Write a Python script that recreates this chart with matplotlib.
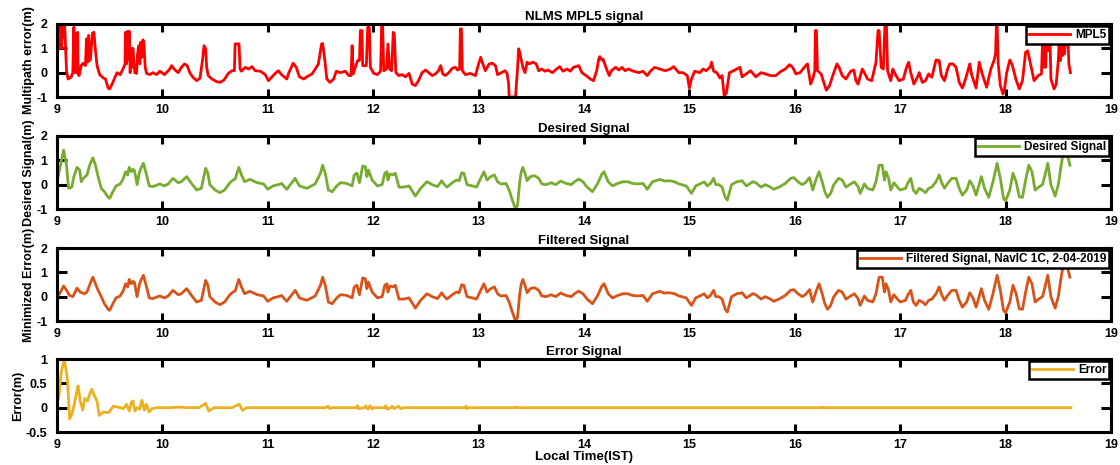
import matplotlib
matplotlib.use("Agg")
import matplotlib.pyplot as plt

plt.rcParams['font.family'] = ['Liberation Sans', 'DejaVu Sans']
plt.rcParams['font.weight'] = 'bold'

# ---- MPL5 raw multipath signal (hours, metres) ----
t_mpl = [9.0, 9.01, 9.02, 9.028, 9.035, 9.044, 9.054, 9.063, 9.073, 9.08, 9.09, 9.105, 9.136, 9.15, 9.16, 9.168,
         9.178, 9.187, 9.196, 9.2, 9.21, 9.23, 9.25, 9.27, 9.28, 9.29, 9.3, 9.31, 9.317, 9.336, 9.35, 9.365,
         9.38, 9.405, 9.44, 9.46, 9.485, 9.5, 9.526, 9.55, 9.57, 9.6, 9.63, 9.645, 9.65, 9.66, 9.67, 9.68,
         9.685, 9.694, 9.704, 9.713, 9.72, 9.738, 9.755, 9.764, 9.777, 9.786, 9.795, 9.805, 9.815, 9.824,
         9.837, 9.85, 9.88, 9.91, 9.945, 9.975, 10.02, 10.07, 10.087, 10.12, 10.15, 10.18, 10.21, 10.235,
         10.26, 10.29, 10.325, 10.357, 10.38, 10.395, 10.41, 10.42, 10.435, 10.47, 10.515, 10.547, 10.585,
         10.626, 10.66, 10.683, 10.69, 10.71, 10.727, 10.737, 10.75, 10.785, 10.816, 10.85, 10.88, 10.93,
         10.975, 11.006, 11.04, 11.07, 11.1, 11.13, 11.18, 11.2, 11.24, 11.27, 11.3, 11.34, 11.37, 11.42,
         11.45, 11.48, 11.51, 11.52, 11.54, 11.56, 11.59, 11.625, 11.65, 11.69, 11.735, 11.77, 11.79, 11.8,
         11.81, 11.83, 11.853, 11.87, 11.878, 11.894, 11.9, 11.935, 11.948, 11.963, 11.973, 12.005,
         12.04, 12.07, 12.08, 12.09, 12.1, 12.126, 12.14, 12.155, 12.175, 12.19, 12.2, 12.215, 12.243,
         12.275, 12.306, 12.34, 12.37, 12.4, 12.43, 12.464, 12.496, 12.527, 12.56, 12.59, 12.62, 12.64,
         12.66, 12.685, 12.717, 12.75, 12.78, 12.8, 12.82, 12.827, 12.837, 12.846, 12.875, 12.92, 12.97,
         13.0, 13.02, 13.04, 13.064, 13.1, 13.13, 13.16, 13.18, 13.216, 13.25, 13.27, 13.285, 13.29, 13.33,
         13.35, 13.37, 13.38, 13.39, 13.42, 13.44, 13.46, 13.48, 13.515, 13.547, 13.57, 13.6, 13.63, 13.66,
         13.7, 13.74, 13.77, 13.8, 13.84, 13.87, 13.9, 13.95, 13.98, 14.02, 14.06, 14.09, 14.12, 14.14,
         14.15, 14.17, 14.18, 14.22, 14.24, 14.26, 14.3, 14.33, 14.36, 14.39, 14.42, 14.47, 14.52, 14.56,
         14.6, 14.63, 14.67, 14.72, 14.77, 14.82, 14.85, 14.9, 14.94, 14.98, 15.0, 15.02, 15.05, 15.1,
         15.13, 15.16, 15.2, 15.21, 15.23, 15.26, 15.29, 15.31, 15.33, 15.35, 15.38, 15.41, 15.45, 15.48,
         15.5, 15.53, 15.58, 15.63, 15.68, 15.72, 15.77, 15.82, 15.87, 15.91, 15.95, 15.98, 16.01, 16.05,
         16.09, 16.12, 16.15, 16.17, 16.19, 16.195, 16.205, 16.215, 16.25, 16.28, 16.3, 16.33, 16.36, 16.4,
         16.42, 16.45, 16.485, 16.53, 16.56, 16.58, 16.6, 16.64, 16.66, 16.69, 16.73, 16.77, 16.79, 16.8,
         16.82, 16.84, 16.855, 16.87, 16.88, 16.91, 16.93, 16.96, 16.99, 17.03, 17.06, 17.08, 17.1, 17.13,
         17.17, 17.18, 17.21, 17.24, 17.27, 17.3, 17.34, 17.37, 17.39, 17.42, 17.45, 17.47, 17.5, 17.53,
         17.56, 17.59, 17.62, 17.66, 17.68, 17.72, 17.75, 17.78, 17.82, 17.86, 17.89, 17.905, 17.912, 17.92,
         17.93, 17.95, 17.975, 17.99, 18.01, 18.04, 18.06, 18.1, 18.13, 18.16, 18.19, 18.21, 18.24, 18.27,
         18.31, 18.34, 18.35, 18.36, 18.37, 18.38, 18.39, 18.405, 18.42, 18.43, 18.46, 18.48, 18.5, 18.51,
         18.52, 18.53, 18.54, 18.55, 18.56, 18.57, 18.59, 18.6, 18.615]
v_mpl = [0.56, 1.0, 1.86, 1.0, 1.86, 1.0, 1.95, 1.46, 1.95, 1.18, 0.08, -0.26, -0.17, 0.0, 1.87, 0.0,
         1.6, 0.0, 1.66, -0.05, -0.12, 0.29, 0.39, 0.29, 1.39, 0.43, 1.53, 0.5, 0.56, 1.62, 1.66, 0.9,
         0.29, -0.08, -0.22, -0.26, -0.63, -0.67, -0.44, -0.19, 0.0, -0.08, 0.19, 0.36, 1.66, 0.36, 1.7, 0.56,
         1.7, 0.0, 1.0, 0.22, 1.0, 0.0, -0.03, 0.77, 1.11, 0.36, 1.25, 0.63, 1.35, 1.25,
         0.22, -0.03, -0.08, 0.0, -0.08, 0.06, -0.08, 0.15, 0.29, 0.11, 0.0, 0.22, 0.36, 0.29,
         0.0, -0.19, -0.33, -0.22, 0.5, 1.11, 0.98, 0.22, -0.12, -0.26, -0.37, -0.4, -0.3,
         -0.03, 0.08, 0.08, 1.18, 1.18, 1.18, 0.15, 0.06, 0.22, 0.15, 0.25, 0.08, 0.06,
         -0.08, -0.33, -0.17, -0.03, 0.08, -0.08, -0.26, 0.0, 0.39, 0.22, -0.17, -0.26, -0.17, -0.05,
         0.15, 0.36, 1.18, 1.2, 0.56, -0.26, -0.4, -0.26, 0.06, 0.0, 0.06, -0.12, -0.12, 1.11,
         -0.05, 0.22, 0.5, 0.5, 1.73, 1.73, 0.29, 0.29, 1.87, 1.87, 0.22, -0.03,
         -0.08, 0.06, 1.92, 1.92, 0.08, 0.15, 1.18, 0.15, 0.08, 1.66, 1.6, 0.0, -0.12,
         -0.08, -0.17, -0.03, -0.47, -0.53, -0.33, 0.0, 0.11, 0.0, -0.12, -0.05, 0.08, 0.29,
         -0.05, -0.12, 0.0, 0.18, 0.22, 0.11, 0.15, 1.8, 1.8, 0.08, -0.08, -0.03, -0.12,
         0.36, 0.63, 0.36, 0.08, 0.36, 0.39, 0.29, -0.08, 0.0, 0.08, -0.03, -0.47, -1.0, -1.0,
         -1.0, 0.22, 0.98, 0.84, 0.22, 0.0, 0.43, 0.36, 0.43, 0.36, 0.08, 0.15, 0.06, 0.11,
         0.0, 0.15, 0.25, 0.06, 0.15, 0.06, 0.22, 0.29, 0.0, -0.12, -0.26, -0.33, 0.08, 0.56,
         0.66, 0.52, 0.56, 0.08, -0.12, 0.08, 0.22, 0.11, 0.22, 0.08, 0.15, 0.06, 0.0, 0.06,
         -0.12, 0.06, 0.22, 0.15, 0.08, 0.15, 0.25, 0.0, 0.0, -0.12, -0.63, -0.26, 0.06, 0.0,
         0.15, 0.08, 0.25, 0.43, 0.06, 0.0, -0.22, -0.12, -0.95, -0.85, 0.0, 0.06, 0.15, 0.22,
         -0.17, -0.08, 0.08, -0.17, 0.0, -0.05, -0.12, -0.12, 0.06, 0.15, 0.33, 0.22, -0.05, 0.0,
         0.22, 0.36, -0.47, -0.26, 0.08, 1.73, 1.73, 0.08, -0.05, -0.47, -0.72, -0.53, -0.12, 0.36,
         0.22, -0.12, -0.26, 0.06, 0.11, -0.33, -0.47, 0.15, 0.0, -0.26, -0.33, 0.43, 1.73, 1.73,
         0.22, 0.15, 1.94, 1.94, 0.08, -0.33, 0.15, -0.12, -0.33, -0.26, 0.22, 0.43, 0.0, -0.47,
         -0.12, 0.0, -0.4, -0.33, -0.05, -0.19, 0.52, 0.5, -0.12, -0.33, 0.15, 0.36, 0.36, 0.22,
         -0.4, -0.63, -0.26, 0.36, -0.12, -0.63, 0.43, -0.08, -0.6, 0.15, 0.5, 0.77, 1.9, 1.9,
         0.36, -0.53, -0.88, -0.67, 0.0, 0.52, 0.36, -0.3, -0.67, -0.33, 0.84, 0.9, 0.29, -0.33,
         -0.12, -0.05, 1.18, 0.22, 1.6, 0.22, 1.6, 0.9, 1.66, -0.26, -0.67, -0.47, 0.5, 1.46,
         0.5, 1.6, 0.7, 1.6, 0.77, 1.6, 1.6, 0.36, 0.0]

# ---- desired signal ----
t_des = [9.0, 9.03, 9.063, 9.09, 9.11, 9.14, 9.16, 9.19, 9.215, 9.23, 9.25, 9.285, 9.31, 9.34, 9.365, 9.39,
         9.42, 9.45, 9.485, 9.5, 9.53, 9.56, 9.6, 9.63, 9.65, 9.67, 9.685, 9.705, 9.72, 9.735, 9.76, 9.78,
         9.8, 9.82, 9.85, 9.875, 9.91, 9.975, 10.02, 10.055, 10.1, 10.15, 10.18, 10.23, 10.28, 10.325,
         10.37, 10.41, 10.43, 10.45, 10.5, 10.545, 10.59, 10.64, 10.67, 10.69, 10.725, 10.75, 10.78,
         10.83, 10.9, 10.96, 11.0, 11.05, 11.1, 11.13, 11.18, 11.26, 11.3, 11.37, 11.45, 11.5, 11.52,
         11.545, 11.575, 11.61, 11.655, 11.69, 11.75, 11.8, 11.82, 11.845, 11.87, 11.9, 11.925, 11.94,
         11.955, 11.99, 12.04, 12.085, 12.11, 12.13, 12.14, 12.16, 12.19, 12.21, 12.245, 12.29, 12.34,
         12.4, 12.45, 12.51, 12.56, 12.61, 12.65, 12.67, 12.7, 12.75, 12.79, 12.815, 12.84, 12.86, 12.89,
         12.94, 12.98, 13.02, 13.05, 13.08, 13.115, 13.15, 13.18, 13.21, 13.26, 13.29, 13.32, 13.35,
         13.37, 13.39, 13.405, 13.42, 13.44, 13.46, 13.49, 13.53, 13.57, 13.6, 13.64, 13.69, 13.73, 13.78,
         13.83, 13.88, 13.91, 13.95, 13.99, 14.03, 14.08, 14.13, 14.17, 14.19, 14.23, 14.27, 14.32, 14.37,
         14.415, 14.46, 14.51, 14.56, 14.6, 14.65, 14.72, 14.76, 14.81, 14.86, 14.9, 14.97, 15.02, 15.06,
         15.11, 15.14, 15.17, 15.2, 15.23, 15.25, 15.28, 15.31, 15.34, 15.36, 15.4, 15.45, 15.5, 15.54,
         15.57, 15.6, 15.63, 15.68, 15.72, 15.77, 15.8, 15.85, 15.91, 15.96, 15.99, 16.03, 16.07, 16.1,
         16.14, 16.17, 16.2, 16.23, 16.26, 16.285, 16.31, 16.34, 16.37, 16.415, 16.45, 16.485, 16.52,
         16.565, 16.6, 16.62, 16.66, 16.69, 16.74, 16.77, 16.8, 16.83, 16.85, 16.865, 16.89, 16.91, 16.94,
         16.97, 17.0, 17.05, 17.07, 17.1, 17.125, 17.15, 17.18, 17.21, 17.24, 17.27, 17.3, 17.34, 17.37,
         17.39, 17.42, 17.45, 17.49, 17.53, 17.56, 17.59, 17.63, 17.66, 17.69, 17.72, 17.77, 17.8, 17.84,
         17.88, 17.92, 17.95, 17.98, 18.0, 18.04, 18.07, 18.1, 18.13, 18.16, 18.19, 18.22, 18.25, 18.28,
         18.32, 18.35, 18.37, 18.4, 18.43, 18.47, 18.5, 18.53, 18.56, 18.59, 18.61]
v_des = [0.1, 0.74, 1.42, 0.8, -0.15, -0.1, 0.33, 0.71, 0.6, 0.12, 0.26, 0.4, 0.8, 1.1, 0.8, 0.33,
         -0.15, -0.29, -0.52, -0.56, -0.29, -0.05, 0.03, 0.26, 0.53, 0.4, 0.71, 0.53, 0.63, 0.58, 0.0, 0.47,
         0.71, 0.88, 0.4, -0.05, -0.08, 0.03, -0.05, 0.03, 0.26, 0.08, 0.12, 0.33, 0.03, -0.22,
         -0.15, 0.67, 0.49, 0.0, -0.22, -0.33, -0.22, 0.08, 0.19, 0.23, 0.71, 0.4, 0.12,
         0.22, 0.08, 0.03, -0.19, -0.05, 0.0, 0.05, -0.19, 0.26, -0.05, -0.15, 0.03, 0.47, 0.8,
         0.47, -0.22, -0.29, -0.05, 0.08, 0.05, -0.05, 0.4, 0.47, 0.08, 0.77, 0.74, 0.33,
         0.6, 0.19, -0.05, 0.0, 0.47, 0.53, 0.19, 0.44, 0.4, 0.47, -0.1, -0.1, -0.05,
         -0.47, -0.15, 0.12, 0.0, -0.08, 0.16, 0.03, -0.1, 0.08, 0.19, 0.16, 0.49, 0.47, 0.0,
         -0.05, -0.1, 0.26, 0.53, 0.19, 0.33, 0.4, 0.12, 0.03, 0.05, -0.22, -0.63, -1.0,
         -0.84, 0.12, 0.53, 0.71, 0.47, 0.16, 0.33, 0.37, 0.26, 0.03, 0.0, 0.08, 0.0, 0.15,
         0.05, 0.0, 0.12, 0.23, 0.12, -0.1, -0.29, 0.05, 0.44, 0.53, 0.12, -0.05, 0.05, 0.12,
         0.12, 0.05, 0.03, 0.05, -0.19, 0.12, 0.22, 0.15, 0.16, 0.12, 0.03, -0.05, -0.36, -0.05,
         0.05, 0.12, -0.05, 0.05, 0.26, 0.0, 0.0, -0.1, -0.52, -0.63, 0.0, 0.12, 0.16, -0.05,
         0.03, 0.12, 0.08, -0.1, 0.0, -0.1, -0.19, -0.1, 0.05, 0.26, 0.29, 0.12, 0.0, 0.08,
         0.29, -0.22, 0.19, 0.53, 0.12, -0.29, -0.52, -0.36, 0.0, 0.26, 0.19, -0.1, 0.0,
         0.12, -0.08, -0.36, 0.03, -0.15, -0.22, 0.12, 0.8, 0.8, 0.19, 0.53, 0.26, -0.22, 0.08,
         -0.08, -0.22, -0.15, 0.05, 0.26, -0.22, -0.36, -0.15, -0.22, -0.33, -0.15, -0.1, 0.12, 0.4,
         0.12, -0.15, 0.05, 0.26, 0.26, -0.15, -0.43, -0.22, 0.16, -0.05, -0.43, 0.33, -0.15, -0.52,
         0.12, 0.88, 0.26, -0.56, -0.66, -0.22, 0.47, 0.12, -0.5, -0.52, 0.19, 0.8, 0.53, -0.22,
         -0.08, 0.0, 0.33, 0.88, 0.0, -0.47, 0.0, 0.88, 1.6, 1.15, 0.8]

# filtered signal: start of the record read separately, afterwards it follows the desired signal
t_fil_head = [9.0, 9.025, 9.063, 9.09, 9.12, 9.15, 9.19, 9.22, 9.26, 9.285, 9.31, 9.34, 9.365, 9.39, 9.42]
v_fil_head = [0.0, 0.12, 0.44, 0.26, 0.05, 0.0, 0.35, 0.19, 0.12, 0.19, 0.49, 0.8, 0.53, 0.26, 0.0]
t_fil = t_fil_head + [t for t in t_des if t > 9.43]
v_fil = v_fil_head + [v for t, v in zip(t_des, v_des) if t > 9.43]

# ---- error signal ----
t_err = [9.0, 9.017, 9.04, 9.068, 9.09, 9.1, 9.12, 9.14, 9.16, 9.186, 9.2, 9.22, 9.244, 9.264, 9.29, 9.31,
         9.33, 9.356, 9.38, 9.4, 9.44, 9.49, 9.535, 9.58, 9.63, 9.66, 9.685, 9.705, 9.72, 9.74, 9.76,
         9.785, 9.805, 9.83, 9.847, 9.875, 9.9, 9.95, 10.05, 10.15, 10.25, 10.35, 10.41, 10.44, 10.49,
         10.66, 10.73, 10.76, 10.8, 11.2, 11.55, 11.57, 11.59, 11.61, 11.84, 11.85, 11.86, 11.92, 11.93,
         11.95, 11.97, 11.99, 12.0, 12.11, 12.12, 12.13, 12.17, 12.18, 12.2, 12.24, 12.26, 12.3, 12.87,
         12.88, 12.89, 12.91, 13.35, 13.36, 13.38, 16.25, 16.26, 16.27, 18.62]
v_err = [0.14, 0.2, 0.72, 0.99, 0.72, 0.55, -0.23, -0.14, 0.03, 0.31, 0.45, 0.14, -0.05, 0.19, 0.14, 0.28,
         0.38, 0.24, 0.14, -0.16, -0.09, -0.1, 0.03, 0.01, -0.02, 0.07, -0.07, 0.1, 0.14, -0.07, 0.0,
         -0.03, 0.15, -0.05, 0.07, -0.09, -0.02, 0.0, 0.0, 0.01, 0.0, 0.0, 0.09, -0.07, 0.0,
         0.0, 0.07, -0.055, 0.0, 0.0, 0.0, 0.03, -0.02, 0.0, 0.0, 0.04, -0.02, 0.0, 0.04,
         -0.03, 0.04, -0.03, 0.0, 0.0, 0.04, -0.03, 0.0, 0.03, -0.02, 0.03, -0.02, 0.0, 0.0,
         0.03, -0.02, 0.0, 0.0, 0.015, 0.0, 0.0, 0.012, 0.0, 0.0]

x_ticks = list(range(9, 20))

panels = [
    (t_mpl, v_mpl, '#FF0000', 'MPL5', 'NLMS MPL5 signal', 'Multipath error(m)', (-1, 2), [-1, 0, 1, 2]),
    (t_des, v_des, '#77AC30', 'Desired Signal', 'Desired Signal', 'Desired Signal(m)', (-1, 2), [-1, 0, 1, 2]),
    (t_fil, v_fil, '#D95319', 'Filtered Signal, NavIC 1C, 2-04-2019', 'Filtered Signal',
     'Minimized Error(m)', (-1, 2), [-1, 0, 1, 2]),
    (t_err, v_err, '#EDB120', 'Error', 'Error Signal', 'Error(m)', (-0.5, 1), [-0.5, 0, 0.5, 1]),
]

fig = plt.figure(figsize=(11.2, 4.65), dpi=100)
W, H = 1120, 465
tops = [24, 136, 248, 359]
ax_h = 73
left, right = 57, 1111

for (t, v, col, lab, title, ylab, ylim, yt), top in zip(panels, tops):
    ax = fig.add_axes([left / W, 1 - (top + ax_h) / H, (right - left) / W, ax_h / H])
    ax.plot(t, v, color=col, lw=2, label=lab)
    ax.set_xlim(9, 19)
    ax.set_ylim(*ylim)
    ax.set_xticks(x_ticks)
    ax.set_yticks(yt)
    ax.set_yticklabels([f'{y:g}' for y in yt])
    ax.tick_params(direction='in', top=True, right=True, labelsize=9, width=2.2)
    ax.tick_params(axis='y', length=7.5, pad=7)
    ax.tick_params(axis='x', length=5.5, pad=5)
    for s in ax.spines.values():
        s.set_linewidth(2.2)
    ax.set_title(title, fontsize=9.5, fontweight='bold', pad=3)
    ax.set_ylabel(ylab, fontsize=9, fontweight='bold', labelpad=1)
    leg = ax.legend(loc='upper right', fontsize=8.5, fancybox=False, framealpha=1,
                    edgecolor='black', borderaxespad=0.15, borderpad=0.25, handlelength=3.5,
                    handletextpad=0.4)
    leg.get_frame().set_linewidth(1.8)
    for tx in leg.get_texts():
        tx.set_fontweight('bold')
    if top == tops[-1]:
        ax.set_xlabel('Local Time(IST)', fontsize=9.5, fontweight='bold', labelpad=0)

fig.savefig('out.png', dpi=100)
